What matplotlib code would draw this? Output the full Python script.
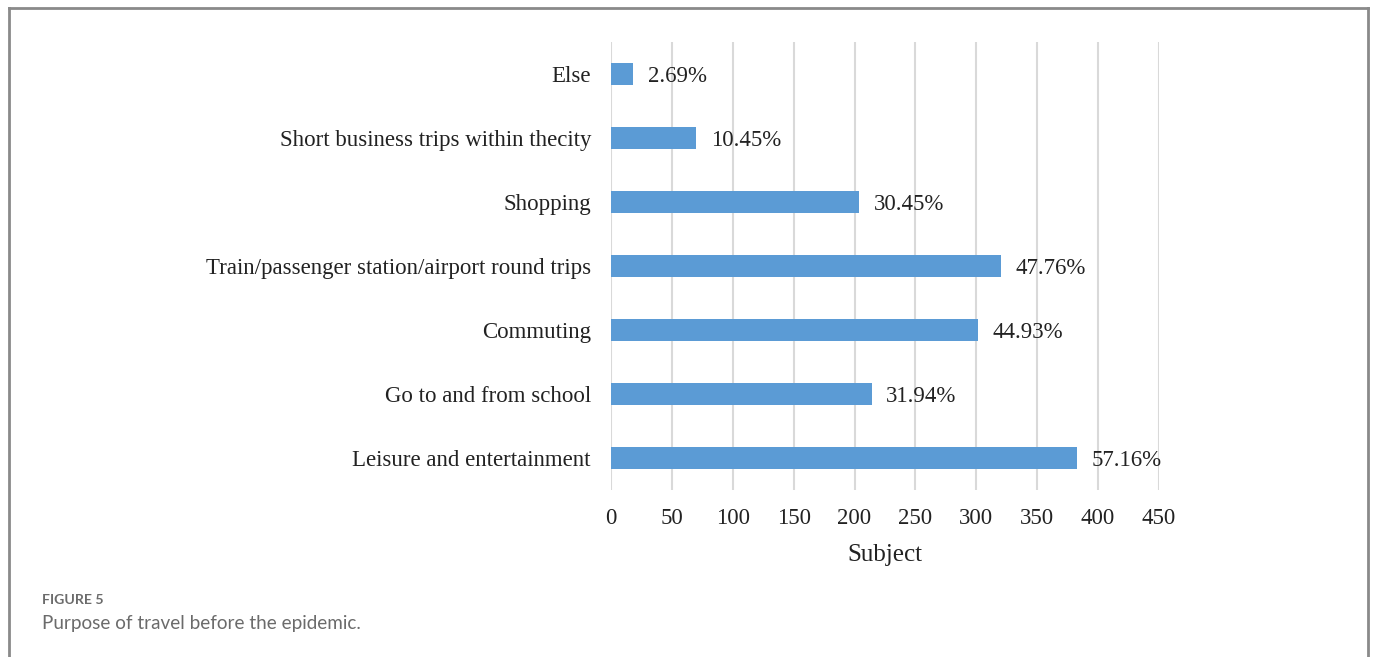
import matplotlib.pyplot as plt
from matplotlib.lines import Line2D

categories = ["Leisure and entertainment", "Go to and from school", "Commuting",
              "Train/passenger station/airport round trips", "Shopping",
              "Short business trips within thecity", "Else"]
counts = [383, 214, 301, 320, 204, 70, 18]
percent_labels = ["57.16%", "31.94%", "44.93%", "47.76%", "30.45%", "10.45%", "2.69%"]
xticks = [0, 50, 100, 150, 200, 250, 300, 350, 400, 450]

W, H = 1375, 657
fig = plt.figure(figsize=(W / 100, H / 100), dpi=100)
ax = fig.add_axes([611 / W, 1 - 490 / H, 548 / W, 448 / H])

serif = "Liberation Serif"
fs = 16.5
ypos = range(len(categories))
ax.barh(ypos, counts, height=0.34, color="#5b9bd5", zorder=3)
for y, v, lab in zip(ypos, counts, percent_labels):
    ax.text(v + 12, y, lab, va="center_baseline", ha="left", fontsize=fs, family=serif,
            color="#222222")

ax.set_xlim(0, 450)
ax.set_ylim(-0.5, len(categories) - 0.5)
ax.set_xticks(xticks)
ax.set_xticklabels([str(t) for t in xticks], fontsize=fs, family=serif, color="#222222")
ax.set_yticks(list(ypos))
ax.set_yticklabels(categories, fontsize=fs, family=serif, color="#222222")
for t in ax.get_yticklabels():
    t.set_verticalalignment("center_baseline")
ax.tick_params(length=0, pad=13)
ax.tick_params(axis="y", pad=14.4)
ax.set_xlabel("Subject", fontsize=18, family=serif, color="#222222", labelpad=10.5)
ax.grid(axis="x", color="#d9d9d9", linewidth=1.5, zorder=0)
for s in ax.spines.values():
    s.set_visible(False)

# outer frame (left, top, right; the bottom is cut off)
fx0, fx1, fy0 = 8.5 / W, 1367.5 / W, 1 - 7.5 / H
frame_kw = dict(color="#8a8a8a", linewidth=2, transform=fig.transFigure)
fig.add_artist(Line2D([fx0, fx0], [0, fy0], **frame_kw))
fig.add_artist(Line2D([fx0, fx1], [fy0, fy0], **frame_kw))
fig.add_artist(Line2D([fx1, fx1], [0, fy0], **frame_kw))

fig.text(42 / W, 1 - 600 / H, "FIGURE 5", fontsize=10.2, family="Lato", weight="bold",
         color="#6b6b6b", va="center")
fig.text(42 / W, 1 - 623 / H, "Purpose of travel before the epidemic.", fontsize=13.6,
         family="Lato", color="#6b6b6b", va="center")

fig.savefig("out.png", dpi=100)
